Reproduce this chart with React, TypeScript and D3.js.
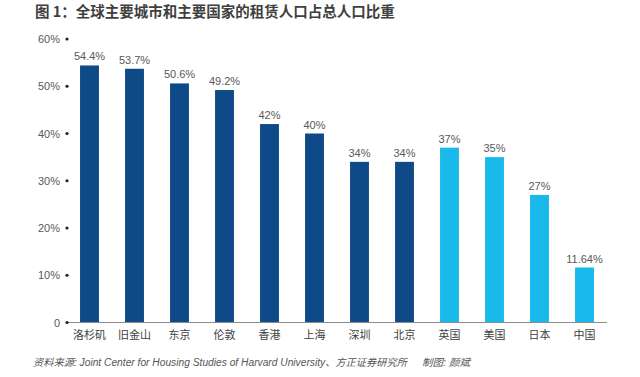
import React from "react";
import * as d3 from "d3";

const categories = ["洛杉矶", "旧金山", "东京", "伦敦", "香港", "上海", "深圳", "北京", "英国", "美国", "日本", "中国"];
const values = [54.4, 53.7, 50.6, 49.2, 42, 40, 34, 34, 37, 35, 27, 11.64];
const valueLabels = ["54.4%", "53.7%", "50.6%", "49.2%", "42%", "40%", "34%", "34%", "37%", "35%", "27%", "11.64%"];
const groups = ["city", "city", "city", "city", "city", "city", "city", "city", "country", "country", "country", "country"];
const yTicks = [0, 10, 20, 30, 40, 50, 60];
const yTickLabels = ["0", "10%", "20%", "30%", "40%", "50%", "60%"];

const W = 640, H = 377;
const left = 67, right = 607, top = 39, bottom = 322.5;
const font = "'Liberation Sans', Arial, 'Noto Sans CJK SC', sans-serif";
const cjk = "'Noto Sans CJK SC', sans-serif";

export default function App() {
  const x = d3.scaleBand().domain(categories).range([left, right]).paddingInner(0.58).paddingOuter(0.29);
  const y = d3.scaleLinear().domain([0, 60]).range([bottom, top]);
  const color = (g: string) => (g === "city" ? "#0f4a88" : "#19b9ec");
  return (
    <svg width={W} height={H} style={{ position: "absolute", left: 0, top: 0, background: "#fff" }}>
      <text x={35} y={17} fontFamily={cjk} fontWeight="bold" fontSize={14.5} fill="#3f3f3f">图 1：全球主要城市和主要国家的租赁人口占总人口比重</text>
      {categories.map((c, i) => (
        <g key={c}>
          <rect x={x(c)} y={y(values[i])} width={x.bandwidth()} height={bottom - y(values[i])} fill={color(groups[i])} />
          <text x={(x(c) as number) + x.bandwidth() / 2} y={y(values[i]) - 5} textAnchor="middle" fontFamily={font} fontSize={11} fill="#595959">{valueLabels[i]}</text>
          <text x={(x(c) as number) + x.bandwidth() / 2} y={bottom + 16} textAnchor="middle" fontFamily={cjk} fontSize={11} fill="#404040">{c}</text>
        </g>
      ))}
      <line x1={left} x2={right} y1={bottom} y2={bottom} stroke="#8c8c8c" strokeWidth={1} />
      {yTicks.map((t, i) => (
        <g key={t}>
          <circle cx={left} cy={y(t)} r={1.6} fill="#222" />
          <text x={left - 7} y={y(t) + 4} textAnchor="end" fontFamily={font} fontSize={11} fill="#595959">{yTickLabels[i]}</text>
        </g>
      ))}
      <text x={33} y={366} fontFamily={font} fontStyle="italic" fontSize={10} fill="#555" textLength={374} lengthAdjust="spacingAndGlyphs">
        资料来源: Joint Center for Housing Studies of Harvard University、方正证券研究所
      </text>
      <text x={422} y={366} fontFamily={font} fontStyle="italic" fontSize={10} fill="#555" textLength={48} lengthAdjust="spacingAndGlyphs">制图: 颜斌</text>
    </svg>
  );
}
